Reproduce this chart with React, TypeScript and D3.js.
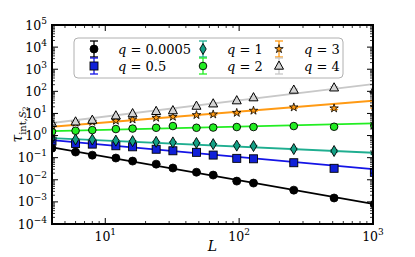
import React from "react";
import * as d3 from "d3";

const W = 415;
const H = 257;
const margin = { top: 25, right: 42, bottom: 33, left: 52 };

// system sizes
const sizes = [4, 6, 8, 12, 16, 24, 32, 48, 64, 96, 128, 256, 512, 1024];

// tau_int for each q
const tauQ0005 = [0.27, 0.18, 0.13, 0.096, 0.07, 0.051, 0.034, 0.022, 0.0163, 0.0087, 0.0071, 0.0034, 0.0015, 0.00079];
const tauQ05 = [0.56, 0.44, 0.41, 0.345, 0.31, 0.24, 0.205, 0.174, 0.131, 0.093, 0.089, 0.059, 0.033, 0.0216];
const tauQ1 = [0.77, 0.67, 0.66, 0.59, 0.56, 0.52, 0.49, 0.46, 0.41, 0.35, 0.335, 0.245, 0.2, 0.157];
const tauQ2 = [1.49, 1.65, 1.77, 1.97, 2.07, 2.25, 2.69, 2.25, 2.3, 2.43, 2.43, 2.69, 2.5, 2.77];
const tauQ3 = [3.3, 3.8, 4.2, 4.7, 5.4, 6.4, 7.1, 8.5, 9.1, 10.7, 13.4, 18.9, 17, 20];
const tauQ4 = [3.6, 4.2, 5.0, 7.9, 9.9, 12.5, 13.5, 21.6, 27.5, 38, 52, 115, 145, 120];

// relative error bars
const errQ0005 = [0.02, 0.02, 0.02, 0.02, 0.02, 0.02, 0.03, 0.03, 0.03, 0.04, 0.04, 0.05, 0.06, 0.08];
const errQ05 = [0.02, 0.02, 0.02, 0.02, 0.03, 0.03, 0.03, 0.04, 0.04, 0.05, 0.05, 0.06, 0.08, 0.1];
const errQ1 = [0.02, 0.02, 0.03, 0.03, 0.04, 0.04, 0.05, 0.05, 0.06, 0.06, 0.07, 0.08, 0.1, 0.12];
const errQ2 = [0.02, 0.03, 0.03, 0.04, 0.04, 0.05, 0.05, 0.06, 0.06, 0.07, 0.07, 0.08, 0.1, 0.12];
const errQ3 = [0.03, 0.03, 0.04, 0.04, 0.05, 0.05, 0.06, 0.06, 0.07, 0.08, 0.08, 0.1, 0.12, 0.14];
const errQ4 = [0.03, 0.04, 0.04, 0.05, 0.05, 0.06, 0.07, 0.07, 0.08, 0.09, 0.1, 0.11, 0.12, 0.15];

// power-law fit, value at L=4 and L=1000
const fitLeft = [0.29, 0.62, 0.77, 1.6, 2.5, 3.7];
const fitRight = [0.00082, 0.03, 0.167, 3.56, 37.6, 214];

const qLabels = ["0.0005", "0.5", "1", "2", "3", "4"];
const lineColors = ["#000000", "#1414e6", "#1fae90", "#22ee22", "#ff9a14", "#c8c8c8"];
const fillColors = ["#000000", "#1020d8", "#14a085", "#22ee22", "#ff9a14", "#d4d4d4"];
const markers = ["circle", "square", "diamond", "circleEdge", "star", "triangle"];

const yTicks = [1e5, 1e4, 1e3, 1e2, 1e1, 1e0, 1e-1, 1e-2, 1e-3, 1e-4];
const xTicks = [10, 100, 1000];

const seriesValues = [tauQ0005, tauQ05, tauQ1, tauQ2, tauQ3, tauQ4];
const seriesErr = [errQ0005, errQ05, errQ1, errQ2, errQ3, errQ4];

const serif = "'DejaVu Serif', 'Liberation Serif', serif";

const Marker = ({ kind, x, y, fill }: { kind: string; x: number; y: number; fill: string }) => {
  const edge = "#000";
  if (kind === "circle") return <circle cx={x} cy={y} r={4} fill={fill} stroke={edge} strokeWidth={0.8} />;
  if (kind === "circleEdge") return <circle cx={x} cy={y} r={3.8} fill={fill} stroke={edge} strokeWidth={0.9} />;
  if (kind === "square") return <rect x={x - 4} y={y - 4} width={8} height={8} fill={fill} stroke={edge} strokeWidth={0.9} />;
  if (kind === "diamond")
    return (
      <path
        d={`M${x},${y - 5.5}L${x + 3.2},${y}L${x},${y + 5.5}L${x - 3.2},${y}Z`}
        fill={fill}
        stroke={edge}
        strokeWidth={0.9}
      />
    );
  if (kind === "star")
    return (
      <path
        d={d3.symbol().type(d3.symbolStar).size(22)() as string}
        transform={`translate(${x},${y})`}
        fill={fill}
        stroke={edge}
        strokeWidth={0.8}
      />
    );
  return (
    <path
      d={`M${x},${y - 5}L${x + 4.5},${y + 3.2}L${x - 4.5},${y + 3.2}Z`}
      fill={fill}
      stroke={edge}
      strokeWidth={1}
    />
  );
};

const Pow10 = ({ x, y, exp, anchor }: { x: number; y: number; exp: number; anchor: string }) => (
  <text x={x} y={y} textAnchor={anchor} fontFamily={serif} fontSize={12.5} fill="#000">
    10
    <tspan dy={-6} fontSize={9}>
      {exp < 0 ? "\u2212" + Math.abs(exp) : exp}
    </tspan>
  </text>
);

const App = () => {
  const x0 = margin.left;
  const x1 = W - margin.right;
  const y0 = margin.top;
  const y1 = H - margin.bottom;

  const xScale = d3.scaleLog().domain([4, 1000]).range([x0, x1]);
  const yScale = d3.scaleLog().domain([1e-4, 1e5]).range([y1, y0]);

  const xMinor: number[] = [];
  [1, 10, 100].forEach((d) => {
    for (let k = 2; k <= 9; k++) {
      const v = d * k;
      if (v >= 4 && v <= 1000) xMinor.push(v);
    }
  });
  const yMinor: number[] = [];
  for (let e = -4; e < 5; e++) {
    for (let k = 2; k <= 9; k++) yMinor.push(k * Math.pow(10, e));
  }

  const fitLine = d3
    .line<[number, number]>()
    .x((d) => xScale(d[0]))
    .y((d) => yScale(d[1]));

  const legendCols = [
    { mx: 94, tx: 118 },
    { mx: 203, tx: 227 },
    { mx: 279, tx: 304 },
  ];
  const legendRows = [49, 66];

  return (
    <svg
      width={W}
      height={H}
      style={{ position: "absolute", left: 0, top: 0, background: "#fff" }}
    >
      <defs>
        <clipPath id="plotClip">
          <rect x={x0} y={y0} width={x1 - x0} height={y1 - y0} />
        </clipPath>
      </defs>

      <g clipPath="url(#plotClip)">
        {seriesValues.map((vals, i) => (
          <path
            key={"fit" + i}
            d={fitLine([
              [4, fitLeft[i]],
              [1000, fitRight[i]],
            ]) as string}
            fill="none"
            stroke={lineColors[i]}
            strokeWidth={1.8}
          />
        ))}
        {seriesValues.map((vals, i) =>
          vals.map((v, j) => {
            const cx = xScale(sizes[j]);
            const lo = yScale(v * (1 - seriesErr[i][j]));
            const hi = yScale(v * (1 + seriesErr[i][j]));
            return (
              <g key={`pt${i}-${j}`}>
                <line x1={cx} x2={cx} y1={lo} y2={hi} stroke={lineColors[i]} strokeWidth={1.2} />
                <line x1={cx - 4} x2={cx + 4} y1={lo} y2={lo} stroke={lineColors[i]} strokeWidth={1.2} />
                <line x1={cx - 4} x2={cx + 4} y1={hi} y2={hi} stroke={lineColors[i]} strokeWidth={1.2} />
                <Marker kind={markers[i]} x={cx} y={yScale(v)} fill={fillColors[i]} />
              </g>
            );
          })
        )}
      </g>

      {/* ticks, inward on all sides */}
      <g stroke="#000">
        {yTicks.map((t) => (
          <g key={"yt" + t}>
            <line x1={x0} x2={x0 + 6} y1={yScale(t)} y2={yScale(t)} strokeWidth={1} />
            <line x1={x1} x2={x1 - 6} y1={yScale(t)} y2={yScale(t)} strokeWidth={1} />
          </g>
        ))}
        {yMinor.map((t) => (
          <g key={"ym" + t}>
            <line x1={x0} x2={x0 + 3} y1={yScale(t)} y2={yScale(t)} strokeWidth={0.8} />
            <line x1={x1} x2={x1 - 3} y1={yScale(t)} y2={yScale(t)} strokeWidth={0.8} />
          </g>
        ))}
        {xTicks.map((t) => (
          <g key={"xt" + t}>
            <line x1={xScale(t)} x2={xScale(t)} y1={y1} y2={y1 - 6} strokeWidth={1} />
            <line x1={xScale(t)} x2={xScale(t)} y1={y0} y2={y0 + 6} strokeWidth={1} />
          </g>
        ))}
        {xMinor.map((t) => (
          <g key={"xm" + t}>
            <line x1={xScale(t)} x2={xScale(t)} y1={y1} y2={y1 - 3} strokeWidth={0.8} />
            <line x1={xScale(t)} x2={xScale(t)} y1={y0} y2={y0 + 3} strokeWidth={0.8} />
          </g>
        ))}
      </g>

      <rect x={x0} y={y0} width={x1 - x0} height={y1 - y0} fill="none" stroke="#000" strokeWidth={2} />

      {yTicks.map((t) => (
        <Pow10 key={"yl" + t} x={47} y={yScale(t) + 4.5} exp={Math.round(Math.log10(t))} anchor="end" />
      ))}
      {xTicks.map((t) => (
        <Pow10 key={"xl" + t} x={xScale(t)} y={y1 + 17} exp={Math.round(Math.log10(t))} anchor="middle" />
      ))}

      <text x={(x0 + x1) / 2} y={251} textAnchor="middle" fontFamily={serif} fontStyle="italic" fontSize={14}>
        L
      </text>
      <text
        transform={`translate(22,${(y0 + y1) / 2}) rotate(-90)`}
        textAnchor="middle"
        fontFamily={serif}
        fontSize={14}
      >
        <tspan fontStyle="italic">τ</tspan>
        <tspan dy={4} fontSize={10}>int,</tspan>
        <tspan fontSize={10} fontStyle="italic">S</tspan>
        <tspan dy={2} fontSize={7.5}>2</tspan>
      </text>

      {/* legend */}
      <rect x={74} y={38} width={269} height={40} rx={4} fill="#fff" fillOpacity={0.85} stroke="#b0b0b0" strokeWidth={1} />
      {qLabels.map((lab, i) => {
        const col = legendCols[Math.floor(i / 2)];
        const ly = legendRows[i % 2];
        return (
          <g key={"lg" + i}>
            <line x1={col.mx} x2={col.mx} y1={ly - 8} y2={ly + 8} stroke={lineColors[i]} strokeWidth={1.3} />
            <line x1={col.mx - 4} x2={col.mx + 4} y1={ly - 8} y2={ly - 8} stroke={lineColors[i]} strokeWidth={1.3} />
            <line x1={col.mx - 4} x2={col.mx + 4} y1={ly + 8} y2={ly + 8} stroke={lineColors[i]} strokeWidth={1.3} />
            <Marker kind={markers[i]} x={col.mx} y={ly} fill={fillColors[i]} />
            <text x={col.tx} y={ly + 4.5} fontFamily={serif} fontSize={13}>
              <tspan fontStyle="italic">q</tspan>
              {" = " + lab}
            </text>
          </g>
        );
      })}
    </svg>
  );
};

export default App;
